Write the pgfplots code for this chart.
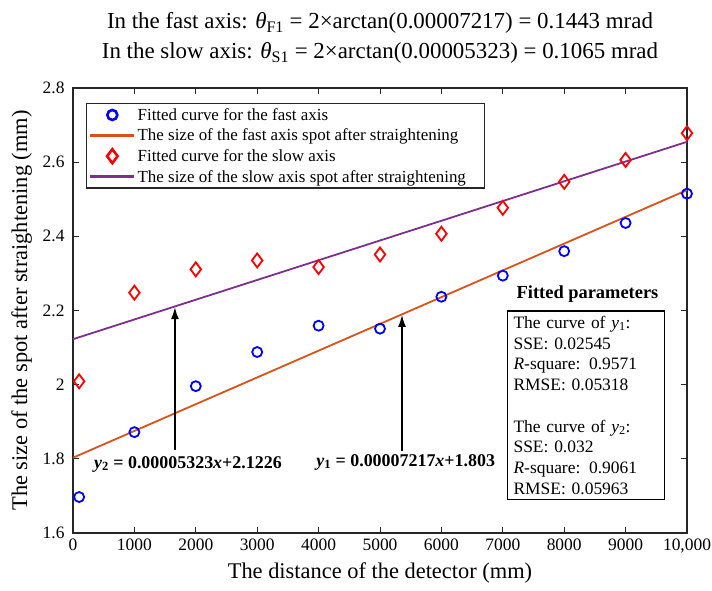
\documentclass[border=0pt]{standalone}
\usepackage{fontspec}
\setmainfont{Liberation Serif}
\usepackage{pgfplots}
\pgfplotsset{compat=1.18}
\usetikzlibrary{arrows.meta}
\definecolor{mblue}{rgb}{0,0,1}
\definecolor{morange}{rgb}{0.85,0.325,0.098}
\definecolor{mred}{rgb}{1,0,0}
\definecolor{mpurple}{rgb}{0.494,0.184,0.556}
\definecolor{axgray}{rgb}{0.15,0.15,0.15}

\begin{document}
\begin{tikzpicture}
\begin{axis}[
    width=614bp, height=445bp, scale only axis,
    xmin=0, xmax=10000, ymin=1.6, ymax=2.8,
    scaled x ticks=false,
    xtick={0,1000,...,10000},
    xticklabels={0,1000,2000,3000,4000,5000,6000,7000,8000,9000,{10,000}},
    ytick={1.6,1.8,2.0,2.2,2.4,2.6,2.8},
    yticklabels={1.6,1.8,2,2.2,2.4,2.6,2.8},
    tick align=inside, major tick length=6bp,
    tick style={axgray, line width=1bp},
    axis line style={axgray, line width=1.2bp},
    ticklabel style={font=\fontsize{17.5}{20}\selectfont},
    xticklabel style={yshift=-2bp},
    yticklabel style={xshift=-5bp},
    xlabel={The distance of the detector (mm)},
    ylabel={The size of the spot after straightening (mm)},
    label style={font=\fontsize{22.5}{26}\selectfont},
    xlabel style={yshift=-3bp},
    ylabel style={yshift=4bp},
    title={In the fast axis: \textit{θ}\textsubscript{F1} = 2×arctan(0.00007217) = 0.1443 mrad\\
           In the slow axis: \textit{θ}\textsubscript{S1} = 2×arctan(0.00005323) = 0.1065 mrad},
    title style={align=center, font=\fontsize{23}{30}\selectfont, yshift=15bp},
    legend style={at={(0.021,0.966)}, anchor=north west, draw=axgray, line width=1.3bp,
        font=\fontsize{17}{19}\selectfont, row sep=3.2bp, inner sep=2.5bp,
        /tikz/every even column/.append style={column sep=5bp}},
    legend cell align=left,
    legend image code/.code={\draw[mark repeat=2,mark phase=2,#1]
        plot coordinates {(0bp,0bp) (22bp,0bp) (44bp,0bp)};},
    legend image post style={line width=2.6bp},
]
\addplot[only marks, mark=o, mblue, mark size=5bp, line width=1.8bp] coordinates {
    (100,1.697) (1000,1.872) (2000,1.996) (3000,2.088) (4000,2.159) (5000,2.151)
    (6000,2.237) (7000,2.294) (8000,2.360) (9000,2.436) (10000,2.515)};
\addlegendentry{Fitted curve for the fast axis}
\addplot[morange, line width=1.8bp] coordinates {(0,1.803) (10000,2.5247)};
\addlegendentry{The size of the fast axis spot after straightening}
\addplot[only marks, mark=diamond, mred, mark size=7bp, line width=1.8bp] coordinates {
    (100,2.009) (1000,2.248) (2000,2.311) (3000,2.335) (4000,2.317) (5000,2.351)
    (6000,2.407) (7000,2.477) (8000,2.547) (9000,2.606) (10000,2.678)};
\addlegendentry{Fitted curve for the slow axis}
\addplot[mpurple, line width=1.8bp] coordinates {(0,2.1226) (10000,2.6549)};
\addlegendentry{The size of the slow axis spot after straightening\hspace*{14bp}}

\draw[-{Latex[length=12bp,width=8bp]}, line width=1.4bp] (axis cs:1660,1.825) -- (axis cs:1660,2.209);
\draw[-{Latex[length=12bp,width=8bp]}, line width=1.4bp] (axis cs:5358,1.820) -- (axis cs:5358,2.188);
\node[anchor=west, inner sep=0pt, font=\fontsize{18}{20}\selectfont\bfseries]
    at (axis cs:340,1.786) {\textit{y}\textsubscript{2} = 0.00005323\textit{x}+2.1226};
\node[anchor=west, inner sep=0pt, font=\fontsize{18}{20}\selectfont\bfseries]
    at (axis cs:3960,1.791) {\textit{y}\textsubscript{1} = 0.00007217\textit{x}+1.803};
\node[anchor=south, inner sep=0pt, font=\fontsize{18.5}{20}\selectfont\bfseries]
    at (axis cs:8380,2.222) {Fitted parameters};
\node[anchor=north west, draw=black, line width=1.2bp, align=left, inner xsep=6bp, inner ysep=5bp,
      text width=145bp, font=\fontsize{17.5}{20.8}\selectfont]
    at (axis cs:7068,2.2) {The curve of \textit{y}\textsubscript{1}:\\SSE: 0.02545\\\textit{R}-square: 0.9571\\RMSE: 0.05318\\[20.8bp]
    The curve of \textit{y}\textsubscript{2}:\\SSE: 0.032\\\textit{R}-square: 0.9061\\RMSE: 0.05963};
\end{axis}
\pgfresetboundingbox
\path (current axis.south west) ++(-73bp,-58bp) rectangle ([shift={(25bp,88bp)}]current axis.north east);
\end{tikzpicture}
\end{document}
